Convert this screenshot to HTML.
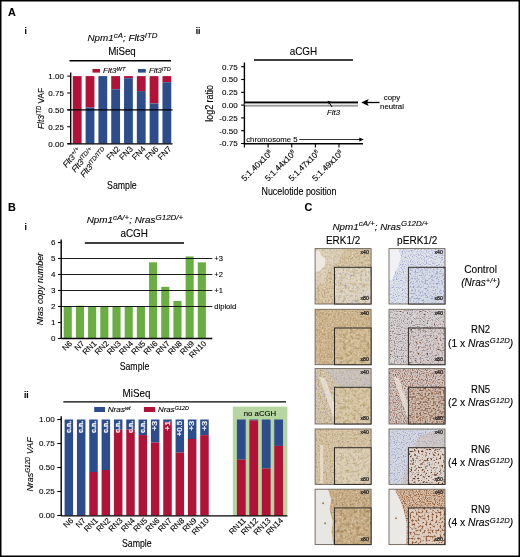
<!DOCTYPE html><html><head><meta charset="utf-8"><title>Figure</title><style>html,body{margin:0;padding:0;background:#fff}svg{display:block}</style></head><body><svg width="520" height="557" viewBox="0 0 520 557" font-family="Liberation Sans, sans-serif">
<defs>
<filter id="nz" x="0" y="0" width="100%" height="100%"><feTurbulence type="fractalNoise" baseFrequency="0.8" numOctaves="2" seed="3" result="t"/><feColorMatrix in="t" type="matrix" values="0 0 0 0 0  0 0 0 0 0  0 0 0 0 0  2.2 0 0 0 -0.85" result="m"/><feComposite in="SourceGraphic" in2="m" operator="in"/></filter>
<filter id="nz2" x="0" y="0" width="100%" height="100%"><feTurbulence type="fractalNoise" baseFrequency="0.5" numOctaves="2" seed="11" result="t"/><feColorMatrix in="t" type="matrix" values="0 0 0 0 0  0 0 0 0 0  0 0 0 0 0  2.2 0 0 0 -0.85" result="m"/><feComposite in="SourceGraphic" in2="m" operator="in"/></filter>
<filter id="nzl" x="0" y="0" width="100%" height="100%"><feTurbulence type="fractalNoise" baseFrequency="0.6" numOctaves="2" seed="23" result="t"/><feColorMatrix in="t" type="matrix" values="0 0 0 0 0  0 0 0 0 0  0 0 0 0 0  0 2.2 0 0 -0.9" result="m"/><feComposite in="SourceGraphic" in2="m" operator="in"/></filter>
</defs>
<rect x="0" y="0" width="520" height="557" fill="#fff"/>
<rect x="0.75" y="0.75" width="518.5" height="555.5" fill="none" stroke="#000" stroke-width="1.5"/>
<text x="8" y="16" font-size="10.8" text-anchor="start" fill="#000" stroke="#000" stroke-width="0.1" font-weight="bold" >A</text>
<text x="24.6" y="33.8" font-size="8.5" text-anchor="start" fill="#000" stroke="#000" stroke-width="0.1" font-weight="bold" >i</text>
<text x="87.5" y="41" font-size="9.7" text-anchor="start" fill="#000" stroke="#000" stroke-width="0.1" font-style="italic" textLength="70" lengthAdjust="spacingAndGlyphs" >Npm1<tspan dy="-3.2" font-size="7.8">cA</tspan><tspan dy="3.2">&#8203;</tspan>; Flt3<tspan dy="-3.2" font-size="7.8">ITD</tspan><tspan dy="3.2">&#8203;</tspan></text>
<text x="122" y="54.5" font-size="10.3" text-anchor="middle" fill="#000" stroke="#000" stroke-width="0.1" textLength="27.6" lengthAdjust="spacingAndGlyphs" >MiSeq</text>
<line x1="69.5" y1="60.75" x2="171" y2="60.75" stroke="#000" stroke-width="1.4"/>
<rect x="92.5" y="69" width="7.5" height="3.6" fill="#B01238"/>
<text x="103" y="73" font-size="7" text-anchor="start" fill="#000" stroke="#000" stroke-width="0.1" font-style="italic" textLength="22.5" lengthAdjust="spacingAndGlyphs" >Flt3<tspan dy="-2.3" font-size="5">WT</tspan><tspan dy="2.3">&#8203;</tspan></text>
<rect x="138" y="69" width="7.8" height="3.6" fill="#2C4C8C"/>
<text x="149" y="73" font-size="7" text-anchor="start" fill="#000" stroke="#000" stroke-width="0.1" font-style="italic" textLength="21.7" lengthAdjust="spacingAndGlyphs" >Flt3<tspan dy="-2.3" font-size="5">ITD</tspan><tspan dy="2.3">&#8203;</tspan></text>
<rect x="72.8" y="76.1" width="8.8" height="67.5" fill="#B01238"/>
<rect x="85.61" y="76.1" width="8.8" height="31.39" fill="#B01238"/>
<rect x="85.61" y="107.49" width="8.8" height="36.11" fill="#2C4C8C"/>
<rect x="98.42" y="76.1" width="8.8" height="67.5" fill="#2C4C8C"/>
<rect x="111.23" y="76.1" width="8.8" height="13.16" fill="#B01238"/>
<rect x="111.23" y="89.26" width="8.8" height="54.34" fill="#2C4C8C"/>
<rect x="124.04" y="76.1" width="8.8" height="2.16" fill="#B01238"/>
<rect x="124.04" y="78.26" width="8.8" height="65.34" fill="#2C4C8C"/>
<rect x="136.85" y="76.1" width="8.8" height="14.98" fill="#B01238"/>
<rect x="136.85" y="91.08" width="8.8" height="52.52" fill="#2C4C8C"/>
<rect x="149.66" y="76.1" width="8.8" height="27.34" fill="#B01238"/>
<rect x="149.66" y="103.44" width="8.8" height="40.16" fill="#2C4C8C"/>
<rect x="162.47" y="76.1" width="8.8" height="6.14" fill="#B01238"/>
<rect x="162.47" y="82.24" width="8.8" height="61.36" fill="#2C4C8C"/>
<line x1="70.7" y1="72.5" x2="70.7" y2="144.2" stroke="#000" stroke-width="1.4"/>
<line x1="67.3" y1="76.1" x2="70.7" y2="76.1" stroke="#000" stroke-width="1.1"/>
<text x="63.9" y="79.0" font-size="8" text-anchor="end" fill="#000" stroke="#000" stroke-width="0.1" >1.00</text>
<line x1="67.3" y1="92.97" x2="70.7" y2="92.97" stroke="#000" stroke-width="1.1"/>
<text x="63.9" y="95.87" font-size="8" text-anchor="end" fill="#000" stroke="#000" stroke-width="0.1" >0.75</text>
<line x1="67.3" y1="109.85" x2="70.7" y2="109.85" stroke="#000" stroke-width="1.1"/>
<text x="63.9" y="112.75" font-size="8" text-anchor="end" fill="#000" stroke="#000" stroke-width="0.1" >0.50</text>
<line x1="67.3" y1="126.72" x2="70.7" y2="126.72" stroke="#000" stroke-width="1.1"/>
<text x="63.9" y="129.62" font-size="8" text-anchor="end" fill="#000" stroke="#000" stroke-width="0.1" >0.25</text>
<line x1="67.3" y1="143.6" x2="70.7" y2="143.6" stroke="#000" stroke-width="1.1"/>
<text x="63.9" y="146.5" font-size="8" text-anchor="end" fill="#000" stroke="#000" stroke-width="0.1" >0.00</text>
<line x1="67.3" y1="109.8" x2="172.5" y2="109.8" stroke="#000" stroke-width="1.3"/>
<line x1="67.3" y1="143.9" x2="172.5" y2="143.9" stroke="#000" stroke-width="1.3"/>
<text x="43.6" y="129" font-size="9.3" text-anchor="start" fill="#000" stroke="#000" stroke-width="0.1" transform="rotate(-90 43.6 129)" textLength="41" lengthAdjust="spacingAndGlyphs" ><tspan font-style="italic">Flt3<tspan dy="-3" font-size="6.5">ITD</tspan><tspan dy="3">&#8203;</tspan></tspan> VAF</text>
<text x="81.2" y="150.5" font-size="8.3" text-anchor="end" fill="#000" stroke="#000" stroke-width="0.1" font-style="italic" transform="rotate(-50 81.2 150.5)" >Flt3<tspan dy="-2.5" font-size="6.2">+/+</tspan><tspan dy="2.5">&#8203;</tspan></text>
<text x="94.0" y="150.5" font-size="8.3" text-anchor="end" fill="#000" stroke="#000" stroke-width="0.1" font-style="italic" transform="rotate(-50 94.0 150.5)" >Flt3<tspan dy="-2.5" font-size="6.2">ITD/+</tspan><tspan dy="2.5">&#8203;</tspan></text>
<text x="106.8" y="150.5" font-size="8.3" text-anchor="end" fill="#000" stroke="#000" stroke-width="0.1" font-style="italic" transform="rotate(-50 106.8 150.5)" >Flt3<tspan dy="-2.5" font-size="6.2">ITD/ITD</tspan><tspan dy="2.5">&#8203;</tspan></text>
<text x="120.6" y="149.5" font-size="8.2" text-anchor="end" fill="#000" stroke="#000" stroke-width="0.1" transform="rotate(-45 120.6 149.5)" >FN2</text>
<text x="133.4" y="149.5" font-size="8.2" text-anchor="end" fill="#000" stroke="#000" stroke-width="0.1" transform="rotate(-45 133.4 149.5)" >FN3</text>
<text x="146.2" y="149.5" font-size="8.2" text-anchor="end" fill="#000" stroke="#000" stroke-width="0.1" transform="rotate(-45 146.2 149.5)" >FN4</text>
<text x="159.1" y="149.5" font-size="8.2" text-anchor="end" fill="#000" stroke="#000" stroke-width="0.1" transform="rotate(-45 159.1 149.5)" >FN6</text>
<text x="171.9" y="149.5" font-size="8.2" text-anchor="end" fill="#000" stroke="#000" stroke-width="0.1" transform="rotate(-45 171.9 149.5)" >FN7</text>
<text x="121.9" y="188.5" font-size="10.2" text-anchor="middle" fill="#000" stroke="#000" stroke-width="0.1" textLength="29.7" lengthAdjust="spacingAndGlyphs" >Sample</text>
<text x="195.7" y="33.6" font-size="8.5" text-anchor="start" fill="#000" stroke="#000" stroke-width="0.1" font-weight="bold" >ii</text>
<text x="303.4" y="54.6" font-size="10.2" text-anchor="middle" fill="#000" stroke="#000" stroke-width="0.1" textLength="27.5" lengthAdjust="spacingAndGlyphs" >aCGH</text>
<line x1="254" y1="60" x2="353" y2="60" stroke="#000" stroke-width="1.4"/>
<line x1="244.4" y1="62.5" x2="244.4" y2="144.4" stroke="#000" stroke-width="1.4"/>
<line x1="241.1" y1="66.7" x2="244.4" y2="66.7" stroke="#000" stroke-width="1.1"/>
<text x="237.6" y="69.6" font-size="8" text-anchor="end" fill="#000" stroke="#000" stroke-width="0.1" >0.75</text>
<line x1="241.1" y1="79.5" x2="244.4" y2="79.5" stroke="#000" stroke-width="1.1"/>
<text x="237.6" y="82.4" font-size="8" text-anchor="end" fill="#000" stroke="#000" stroke-width="0.1" >0.50</text>
<line x1="241.1" y1="92.3" x2="244.4" y2="92.3" stroke="#000" stroke-width="1.1"/>
<text x="237.6" y="95.2" font-size="8" text-anchor="end" fill="#000" stroke="#000" stroke-width="0.1" >0.25</text>
<line x1="241.1" y1="105.1" x2="244.4" y2="105.1" stroke="#000" stroke-width="1.1"/>
<text x="237.6" y="108.0" font-size="8" text-anchor="end" fill="#000" stroke="#000" stroke-width="0.1" >0.00</text>
<line x1="241.1" y1="117.9" x2="244.4" y2="117.9" stroke="#000" stroke-width="1.1"/>
<text x="237.6" y="120.8" font-size="8" text-anchor="end" fill="#000" stroke="#000" stroke-width="0.1" >-0.25</text>
<line x1="241.1" y1="130.7" x2="244.4" y2="130.7" stroke="#000" stroke-width="1.1"/>
<text x="237.6" y="133.6" font-size="8" text-anchor="end" fill="#000" stroke="#000" stroke-width="0.1" >-0.50</text>
<line x1="241.1" y1="143.5" x2="244.4" y2="143.5" stroke="#000" stroke-width="1.1"/>
<text x="237.6" y="146.4" font-size="8" text-anchor="end" fill="#000" stroke="#000" stroke-width="0.1" >-0.75</text>
<text x="213" y="121.7" font-size="10.2" text-anchor="start" fill="#000" stroke="#000" stroke-width="0.1" transform="rotate(-90 213 121.7)" textLength="36.6" lengthAdjust="spacingAndGlyphs" >log2 ratio</text>
<line x1="244.4" y1="102.5" x2="358" y2="102.5" stroke="#000" stroke-width="2"/>
<line x1="244.4" y1="104.2" x2="358" y2="104.2" stroke="#ddd" stroke-width="1"/>
<line x1="244.4" y1="105.9" x2="358" y2="105.9" stroke="#333" stroke-width="0.8"/>
<text x="246.2" y="141.5" font-size="7.8" text-anchor="start" fill="#000" stroke="#000" stroke-width="0.1" textLength="51.5" lengthAdjust="spacingAndGlyphs" >chromosome 5</text>
<line x1="299.2" y1="139.5" x2="360" y2="139.5" stroke="#000" stroke-width="0.8"/>
<path d="M363.8 139.5 l-4.5 -2 v4z" fill="#000"/>
<line x1="244.4" y1="143.75" x2="363" y2="143.75" stroke="#000" stroke-width="1.3"/>
<line x1="244.4" y1="143.75" x2="244.4" y2="147.5" stroke="#000" stroke-width="1.1"/>
<line x1="268.1" y1="143.75" x2="268.1" y2="147.5" stroke="#000" stroke-width="1.1"/>
<line x1="291.7" y1="143.75" x2="291.7" y2="147.5" stroke="#000" stroke-width="1.1"/>
<line x1="315.4" y1="143.75" x2="315.4" y2="147.5" stroke="#000" stroke-width="1.1"/>
<line x1="339.0" y1="143.75" x2="339.0" y2="147.5" stroke="#000" stroke-width="1.1"/>
<text x="392" y="100" font-size="7.8" text-anchor="middle" fill="#000" stroke="#000" stroke-width="0.1" >copy</text>
<text x="392" y="109.25" font-size="7.8" text-anchor="middle" fill="#000" stroke="#000" stroke-width="0.1" >neutral</text>
<line x1="366" y1="102.5" x2="379.5" y2="102.5" stroke="#000" stroke-width="1.3"/>
<path d="M361.2 102.5 l7.5 -3.6 l-1.6 3.6 l1.6 3.6z" fill="#000"/>
<text x="327" y="115" font-size="7.8" text-anchor="start" fill="#000" stroke="#000" stroke-width="0.1" font-style="italic" >Flt3</text>
<line x1="329.5" y1="103.2" x2="332" y2="107" stroke="#000" stroke-width="1"/>
<path d="M327.6 100.8 l3.8 1.3 l-2.6 2.3z" fill="#000"/>
<text x="272.90000000000003" y="153.5" font-size="8.4" text-anchor="end" fill="#000" stroke="#000" stroke-width="0.1" transform="rotate(-45 272.90000000000003 153.5)" >5:1.40x10<tspan dy="-2.8" font-size="5.6">8</tspan><tspan dy="2.8">&#8203;</tspan></text>
<text x="296.5" y="153.5" font-size="8.4" text-anchor="end" fill="#000" stroke="#000" stroke-width="0.1" transform="rotate(-45 296.5 153.5)" >5:1.44x10<tspan dy="-2.8" font-size="5.6">8</tspan><tspan dy="2.8">&#8203;</tspan></text>
<text x="320.2" y="153.5" font-size="8.4" text-anchor="end" fill="#000" stroke="#000" stroke-width="0.1" transform="rotate(-45 320.2 153.5)" >5:1.47x10<tspan dy="-2.8" font-size="5.6">8</tspan><tspan dy="2.8">&#8203;</tspan></text>
<text x="343.8" y="153.5" font-size="8.4" text-anchor="end" fill="#000" stroke="#000" stroke-width="0.1" transform="rotate(-45 343.8 153.5)" >5:1.49x10<tspan dy="-2.8" font-size="5.6">8</tspan><tspan dy="2.8">&#8203;</tspan></text>
<text x="299" y="195" font-size="10" text-anchor="middle" fill="#000" stroke="#000" stroke-width="0.1" textLength="75" lengthAdjust="spacingAndGlyphs" >Nucelotide position</text>
<text x="8" y="211.2" font-size="10.8" text-anchor="start" fill="#000" stroke="#000" stroke-width="0.1" font-weight="bold" >B</text>
<text x="24.6" y="229.5" font-size="8.5" text-anchor="start" fill="#000" stroke="#000" stroke-width="0.1" font-weight="bold" >i</text>
<text x="86.7" y="223.3" font-size="9.7" text-anchor="start" fill="#000" stroke="#000" stroke-width="0.1" font-style="italic" textLength="96.5" lengthAdjust="spacingAndGlyphs" >Npm1<tspan dy="-3.2" font-size="7.8">cA/+</tspan><tspan dy="3.2">&#8203;</tspan>; Nras<tspan dy="-3.2" font-size="7.8">G12D/+</tspan><tspan dy="3.2">&#8203;</tspan></text>
<text x="134.2" y="236.7" font-size="10.2" text-anchor="middle" fill="#000" stroke="#000" stroke-width="0.1" textLength="27.5" lengthAdjust="spacingAndGlyphs" >aCGH</text>
<line x1="84.8" y1="243" x2="184" y2="243" stroke="#000" stroke-width="1.4"/>
<text x="214.3" y="261.2" font-size="7.6" text-anchor="start" fill="#000" stroke="#000" stroke-width="0.1" >+3</text>
<text x="214.3" y="277.2" font-size="7.6" text-anchor="start" fill="#000" stroke="#000" stroke-width="0.1" >+2</text>
<text x="214.3" y="293.2" font-size="7.6" text-anchor="start" fill="#000" stroke="#000" stroke-width="0.1" >+1</text>
<text x="214.3" y="309.2" font-size="7.6" text-anchor="start" fill="#000" stroke="#000" stroke-width="0.1" >diploid</text>
<rect x="63.7" y="306.5" width="8.1" height="32.0" fill="#6AAE43"/>
<rect x="75.89" y="305.7" width="8.1" height="32.8" fill="#6AAE43"/>
<rect x="88.08" y="306.5" width="8.1" height="32.0" fill="#6AAE43"/>
<rect x="100.27" y="306.5" width="8.1" height="32.0" fill="#6AAE43"/>
<rect x="112.46" y="306.5" width="8.1" height="32.0" fill="#6AAE43"/>
<rect x="124.65" y="306.5" width="8.1" height="32.0" fill="#6AAE43"/>
<rect x="136.84" y="306.5" width="8.1" height="32.0" fill="#6AAE43"/>
<rect x="149.03" y="262.34" width="8.1" height="76.16" fill="#6AAE43"/>
<rect x="161.22" y="286.82" width="8.1" height="51.68" fill="#6AAE43"/>
<rect x="173.41" y="300.9" width="8.1" height="37.6" fill="#6AAE43"/>
<rect x="185.6" y="256.42" width="8.1" height="82.08" fill="#6AAE43"/>
<rect x="197.79" y="262.34" width="8.1" height="76.16" fill="#6AAE43"/>
<line x1="61.2" y1="258.5" x2="212.3" y2="258.5" stroke="#111" stroke-width="0.95"/>
<line x1="61.2" y1="274.5" x2="212.3" y2="274.5" stroke="#111" stroke-width="0.95"/>
<line x1="61.2" y1="290.5" x2="212.3" y2="290.5" stroke="#111" stroke-width="0.95"/>
<line x1="61.2" y1="306.5" x2="212.3" y2="306.5" stroke="#111" stroke-width="0.95"/>
<line x1="61.2" y1="239.4" x2="61.2" y2="339.1" stroke="#000" stroke-width="1.4"/>
<line x1="61.2" y1="338.5" x2="212.3" y2="338.5" stroke="#000" stroke-width="1.3"/>
<line x1="57.9" y1="338.5" x2="61.2" y2="338.5" stroke="#000" stroke-width="1.1"/>
<text x="55.5" y="341.3" font-size="8" text-anchor="end" fill="#000" stroke="#000" stroke-width="0.1" >0</text>
<line x1="57.9" y1="322.5" x2="61.2" y2="322.5" stroke="#000" stroke-width="1.1"/>
<text x="55.5" y="325.3" font-size="8" text-anchor="end" fill="#000" stroke="#000" stroke-width="0.1" >1</text>
<line x1="57.9" y1="306.5" x2="61.2" y2="306.5" stroke="#000" stroke-width="1.1"/>
<text x="55.5" y="309.3" font-size="8" text-anchor="end" fill="#000" stroke="#000" stroke-width="0.1" >2</text>
<line x1="57.9" y1="290.5" x2="61.2" y2="290.5" stroke="#000" stroke-width="1.1"/>
<text x="55.5" y="293.3" font-size="8" text-anchor="end" fill="#000" stroke="#000" stroke-width="0.1" >3</text>
<line x1="57.9" y1="274.5" x2="61.2" y2="274.5" stroke="#000" stroke-width="1.1"/>
<text x="55.5" y="277.3" font-size="8" text-anchor="end" fill="#000" stroke="#000" stroke-width="0.1" >4</text>
<line x1="57.9" y1="258.5" x2="61.2" y2="258.5" stroke="#000" stroke-width="1.1"/>
<text x="55.5" y="261.3" font-size="8" text-anchor="end" fill="#000" stroke="#000" stroke-width="0.1" >5</text>
<line x1="57.9" y1="242.5" x2="61.2" y2="242.5" stroke="#000" stroke-width="1.1"/>
<text x="55.5" y="245.3" font-size="8" text-anchor="end" fill="#000" stroke="#000" stroke-width="0.1" >6</text>
<text x="43.5" y="325.2" font-size="9.3" text-anchor="start" fill="#000" stroke="#000" stroke-width="0.1" font-style="italic" transform="rotate(-90 43.5 325.2)" textLength="72.2" lengthAdjust="spacingAndGlyphs" >Nras copy number</text>
<text x="72.7" y="344" font-size="8" text-anchor="end" fill="#000" stroke="#000" stroke-width="0.1" transform="rotate(-45 72.7 344)" >N6</text>
<text x="84.9" y="344" font-size="8" text-anchor="end" fill="#000" stroke="#000" stroke-width="0.1" transform="rotate(-45 84.9 344)" >N7</text>
<text x="97.1" y="344" font-size="8" text-anchor="end" fill="#000" stroke="#000" stroke-width="0.1" transform="rotate(-45 97.1 344)" >RN1</text>
<text x="109.3" y="344" font-size="8" text-anchor="end" fill="#000" stroke="#000" stroke-width="0.1" transform="rotate(-45 109.3 344)" >RN2</text>
<text x="121.5" y="344" font-size="8" text-anchor="end" fill="#000" stroke="#000" stroke-width="0.1" transform="rotate(-45 121.5 344)" >RN3</text>
<text x="133.7" y="344" font-size="8" text-anchor="end" fill="#000" stroke="#000" stroke-width="0.1" transform="rotate(-45 133.7 344)" >RN4</text>
<text x="145.9" y="344" font-size="8" text-anchor="end" fill="#000" stroke="#000" stroke-width="0.1" transform="rotate(-45 145.9 344)" >RN5</text>
<text x="158.1" y="344" font-size="8" text-anchor="end" fill="#000" stroke="#000" stroke-width="0.1" transform="rotate(-45 158.1 344)" >RN6</text>
<text x="170.3" y="344" font-size="8" text-anchor="end" fill="#000" stroke="#000" stroke-width="0.1" transform="rotate(-45 170.3 344)" >RN7</text>
<text x="182.5" y="344" font-size="8" text-anchor="end" fill="#000" stroke="#000" stroke-width="0.1" transform="rotate(-45 182.5 344)" >RN8</text>
<text x="194.7" y="344" font-size="8" text-anchor="end" fill="#000" stroke="#000" stroke-width="0.1" transform="rotate(-45 194.7 344)" >RN9</text>
<text x="206.8" y="344" font-size="8" text-anchor="end" fill="#000" stroke="#000" stroke-width="0.1" transform="rotate(-45 206.8 344)" >RN10</text>
<text x="134.5" y="370.2" font-size="10.2" text-anchor="middle" fill="#000" stroke="#000" stroke-width="0.1" textLength="29.7" lengthAdjust="spacingAndGlyphs" >Sample</text>
<text x="24" y="397.5" font-size="8.5" text-anchor="start" fill="#000" stroke="#000" stroke-width="0.1" font-weight="bold" >ii</text>
<text x="136.5" y="396.7" font-size="10.3" text-anchor="middle" fill="#000" stroke="#000" stroke-width="0.1" textLength="27.8" lengthAdjust="spacingAndGlyphs" >MiSeq</text>
<line x1="63.3" y1="401.9" x2="286" y2="401.9" stroke="#000" stroke-width="1.2"/>
<rect x="232.8" y="406.6" width="54.6" height="109.4" fill="#B6D6A1"/>
<rect x="94.2" y="407" width="10.8" height="5" fill="#2C4C8C"/>
<text x="107.7" y="412.3" font-size="7.3" text-anchor="start" fill="#000" stroke="#000" stroke-width="0.1" font-style="italic" textLength="22.9" lengthAdjust="spacingAndGlyphs" >Nras<tspan dy="-2.3" font-size="5">wt</tspan><tspan dy="2.3">&#8203;</tspan></text>
<rect x="143.9" y="407" width="11.3" height="5" fill="#B01238"/>
<text x="157.9" y="412.3" font-size="7.3" text-anchor="start" fill="#000" stroke="#000" stroke-width="0.1" font-style="italic" textLength="31" lengthAdjust="spacingAndGlyphs" >Nras<tspan dy="-2.3" font-size="5">G12D</tspan><tspan dy="2.3">&#8203;</tspan></text>
<text x="260" y="415.5" font-size="8" text-anchor="middle" fill="#000" stroke="#000" stroke-width="0.1" textLength="32.5" lengthAdjust="spacingAndGlyphs" >no aCGH</text>
<rect x="64.6" y="419.5" width="8.5" height="96.0" fill="#2C4C8C"/>
<text x="71.1" y="420.9" font-size="6.6" text-anchor="end" fill="#fff" font-weight="bold" transform="rotate(-90 71.1 420.9)" textLength="12" lengthAdjust="spacingAndGlyphs" stroke="#fff" stroke-width="0.25">c.n.</text>
<rect x="76.93" y="419.5" width="8.5" height="96.0" fill="#2C4C8C"/>
<text x="83.5" y="420.9" font-size="6.6" text-anchor="end" fill="#fff" font-weight="bold" transform="rotate(-90 83.5 420.9)" textLength="12" lengthAdjust="spacingAndGlyphs" stroke="#fff" stroke-width="0.25">c.n.</text>
<rect x="89.26" y="419.5" width="8.5" height="52.51" fill="#2C4C8C"/>
<rect x="89.26" y="472.01" width="8.5" height="43.49" fill="#B01238"/>
<text x="95.8" y="420.9" font-size="6.6" text-anchor="end" fill="#fff" font-weight="bold" transform="rotate(-90 95.8 420.9)" textLength="12" lengthAdjust="spacingAndGlyphs" stroke="#fff" stroke-width="0.25">c.n.</text>
<rect x="101.59" y="419.5" width="8.5" height="50.5" fill="#2C4C8C"/>
<rect x="101.59" y="470.0" width="8.5" height="45.5" fill="#B01238"/>
<text x="108.1" y="420.9" font-size="6.6" text-anchor="end" fill="#fff" font-weight="bold" transform="rotate(-90 108.1 420.9)" textLength="12" lengthAdjust="spacingAndGlyphs" stroke="#fff" stroke-width="0.25">c.n.</text>
<rect x="113.92" y="419.5" width="8.5" height="10.18" fill="#2C4C8C"/>
<rect x="113.92" y="429.68" width="8.5" height="85.82" fill="#B01238"/>
<text x="120.5" y="420.9" font-size="6.6" text-anchor="end" fill="#fff" font-weight="bold" transform="rotate(-90 120.5 420.9)" textLength="12" lengthAdjust="spacingAndGlyphs" stroke="#fff" stroke-width="0.25">c.n.</text>
<rect x="126.25" y="419.5" width="8.5" height="10.18" fill="#2C4C8C"/>
<rect x="126.25" y="429.68" width="8.5" height="85.82" fill="#B01238"/>
<text x="132.8" y="420.9" font-size="6.6" text-anchor="end" fill="#fff" font-weight="bold" transform="rotate(-90 132.8 420.9)" textLength="12" lengthAdjust="spacingAndGlyphs" stroke="#fff" stroke-width="0.25">c.n.</text>
<rect x="138.58" y="419.5" width="8.5" height="15.55" fill="#2C4C8C"/>
<rect x="138.58" y="435.05" width="8.5" height="80.45" fill="#B01238"/>
<text x="145.1" y="420.9" font-size="6.6" text-anchor="end" fill="#fff" font-weight="bold" transform="rotate(-90 145.1 420.9)" textLength="12" lengthAdjust="spacingAndGlyphs" stroke="#fff" stroke-width="0.25">c.n.</text>
<rect x="150.91" y="419.5" width="8.5" height="23.04" fill="#2C4C8C"/>
<rect x="150.91" y="442.54" width="8.5" height="72.96" fill="#B01238"/>
<text x="157.5" y="420.9" font-size="6.6" text-anchor="end" fill="#fff" transform="rotate(-90 157.5 420.9)" textLength="9.8" lengthAdjust="spacingAndGlyphs" stroke="#fff" stroke-width="0.25">+3</text>
<rect x="163.24" y="419.5" width="8.5" height="2.4" fill="#2C4C8C"/>
<rect x="163.24" y="421.9" width="8.5" height="93.6" fill="#B01238"/>
<text x="169.8" y="420.9" font-size="6.6" text-anchor="end" fill="#fff" transform="rotate(-90 169.8 420.9)" textLength="9.8" lengthAdjust="spacingAndGlyphs" stroke="#fff" stroke-width="0.25">+1</text>
<rect x="175.57" y="419.5" width="8.5" height="33.12" fill="#2C4C8C"/>
<rect x="175.57" y="452.62" width="8.5" height="62.88" fill="#B01238"/>
<text x="182.1" y="420.9" font-size="6.6" text-anchor="end" fill="#fff" transform="rotate(-90 182.1 420.9)" textLength="15.4" lengthAdjust="spacingAndGlyphs" stroke="#fff" stroke-width="0.25">+0.5</text>
<rect x="187.9" y="419.5" width="8.5" height="19.49" fill="#2C4C8C"/>
<rect x="187.9" y="438.99" width="8.5" height="76.51" fill="#B01238"/>
<text x="194.5" y="420.9" font-size="6.6" text-anchor="end" fill="#fff" transform="rotate(-90 194.5 420.9)" textLength="9.8" lengthAdjust="spacingAndGlyphs" stroke="#fff" stroke-width="0.25">+3</text>
<rect x="200.23" y="419.5" width="8.5" height="15.65" fill="#2C4C8C"/>
<rect x="200.23" y="435.15" width="8.5" height="80.35" fill="#B01238"/>
<text x="206.8" y="420.9" font-size="6.6" text-anchor="end" fill="#fff" transform="rotate(-90 206.8 420.9)" textLength="9.8" lengthAdjust="spacingAndGlyphs" stroke="#fff" stroke-width="0.25">+3</text>
<rect x="236.9" y="419.5" width="8.8" height="40.13" fill="#2C4C8C"/>
<rect x="236.9" y="459.63" width="8.8" height="55.87" fill="#B01238"/>
<rect x="249.35" y="419.5" width="8.8" height="0.96" fill="#2C4C8C"/>
<rect x="249.35" y="420.46" width="8.8" height="95.04" fill="#B01238"/>
<rect x="261.8" y="419.5" width="8.8" height="48.96" fill="#2C4C8C"/>
<rect x="261.8" y="468.46" width="8.8" height="47.04" fill="#B01238"/>
<rect x="274.25" y="419.5" width="8.8" height="26.4" fill="#2C4C8C"/>
<rect x="274.25" y="445.9" width="8.8" height="69.6" fill="#B01238"/>
<line x1="61.2" y1="416.3" x2="61.2" y2="516.1" stroke="#000" stroke-width="1.4"/>
<line x1="61.2" y1="515.8" x2="287.4" y2="515.8" stroke="#000" stroke-width="1.3"/>
<line x1="57.3" y1="419.5" x2="61.2" y2="419.5" stroke="#000" stroke-width="1.1"/>
<text x="54.6" y="422.4" font-size="8" text-anchor="end" fill="#000" stroke="#000" stroke-width="0.1" >1.00</text>
<line x1="57.3" y1="443.5" x2="61.2" y2="443.5" stroke="#000" stroke-width="1.1"/>
<text x="54.6" y="446.4" font-size="8" text-anchor="end" fill="#000" stroke="#000" stroke-width="0.1" >0.75</text>
<line x1="57.3" y1="467.5" x2="61.2" y2="467.5" stroke="#000" stroke-width="1.1"/>
<text x="54.6" y="470.4" font-size="8" text-anchor="end" fill="#000" stroke="#000" stroke-width="0.1" >0.50</text>
<line x1="57.3" y1="491.5" x2="61.2" y2="491.5" stroke="#000" stroke-width="1.1"/>
<text x="54.6" y="494.4" font-size="8" text-anchor="end" fill="#000" stroke="#000" stroke-width="0.1" >0.25</text>
<line x1="57.3" y1="515.5" x2="61.2" y2="515.5" stroke="#000" stroke-width="1.1"/>
<text x="54.6" y="518.4" font-size="8" text-anchor="end" fill="#000" stroke="#000" stroke-width="0.1" >0.00</text>
<text x="32.8" y="491.6" font-size="9.3" text-anchor="start" fill="#000" stroke="#000" stroke-width="0.1" font-style="italic" transform="rotate(-90 32.8 491.6)" textLength="54.2" lengthAdjust="spacingAndGlyphs" >Nras<tspan dy="-3" font-size="6.5">G12D</tspan><tspan dy="3">&#8203;</tspan> VAF</text>
<text x="73.8" y="521" font-size="8" text-anchor="end" fill="#000" stroke="#000" stroke-width="0.1" transform="rotate(-45 73.8 521)" >N6</text>
<text x="86.2" y="521" font-size="8" text-anchor="end" fill="#000" stroke="#000" stroke-width="0.1" transform="rotate(-45 86.2 521)" >N7</text>
<text x="98.5" y="521" font-size="8" text-anchor="end" fill="#000" stroke="#000" stroke-width="0.1" transform="rotate(-45 98.5 521)" >RN1</text>
<text x="110.8" y="521" font-size="8" text-anchor="end" fill="#000" stroke="#000" stroke-width="0.1" transform="rotate(-45 110.8 521)" >RN2</text>
<text x="123.2" y="521" font-size="8" text-anchor="end" fill="#000" stroke="#000" stroke-width="0.1" transform="rotate(-45 123.2 521)" >RN3</text>
<text x="135.5" y="521" font-size="8" text-anchor="end" fill="#000" stroke="#000" stroke-width="0.1" transform="rotate(-45 135.5 521)" >RN4</text>
<text x="147.8" y="521" font-size="8" text-anchor="end" fill="#000" stroke="#000" stroke-width="0.1" transform="rotate(-45 147.8 521)" >RN5</text>
<text x="160.2" y="521" font-size="8" text-anchor="end" fill="#000" stroke="#000" stroke-width="0.1" transform="rotate(-45 160.2 521)" >RN6</text>
<text x="172.5" y="521" font-size="8" text-anchor="end" fill="#000" stroke="#000" stroke-width="0.1" transform="rotate(-45 172.5 521)" >RN7</text>
<text x="184.8" y="521" font-size="8" text-anchor="end" fill="#000" stroke="#000" stroke-width="0.1" transform="rotate(-45 184.8 521)" >RN8</text>
<text x="197.1" y="521" font-size="8" text-anchor="end" fill="#000" stroke="#000" stroke-width="0.1" transform="rotate(-45 197.1 521)" >RN9</text>
<text x="209.5" y="521" font-size="8" text-anchor="end" fill="#000" stroke="#000" stroke-width="0.1" transform="rotate(-45 209.5 521)" >RN10</text>
<text x="246.3" y="521" font-size="8" text-anchor="end" fill="#000" stroke="#000" stroke-width="0.1" transform="rotate(-45 246.3 521)" >RN11</text>
<text x="258.7" y="521" font-size="8" text-anchor="end" fill="#000" stroke="#000" stroke-width="0.1" transform="rotate(-45 258.7 521)" >RN12</text>
<text x="271.2" y="521" font-size="8" text-anchor="end" fill="#000" stroke="#000" stroke-width="0.1" transform="rotate(-45 271.2 521)" >RN13</text>
<text x="283.6" y="521" font-size="8" text-anchor="end" fill="#000" stroke="#000" stroke-width="0.1" transform="rotate(-45 283.6 521)" >RN14</text>
<text x="136.8" y="546.8" font-size="10.2" text-anchor="middle" fill="#000" stroke="#000" stroke-width="0.1" textLength="29.7" lengthAdjust="spacingAndGlyphs" >Sample</text>
<text x="304.4" y="211" font-size="10.8" text-anchor="start" fill="#000" stroke="#000" stroke-width="0.1" font-weight="bold" >C</text>
<text x="332.5" y="229.5" font-size="9.7" text-anchor="start" fill="#000" stroke="#000" stroke-width="0.1" font-style="italic" textLength="96" lengthAdjust="spacingAndGlyphs" >Npm1<tspan dy="-3.2" font-size="7.8">cA/+</tspan><tspan dy="3.2">&#8203;</tspan>; Nras<tspan dy="-3.2" font-size="7.8">G12D/+</tspan><tspan dy="3.2">&#8203;</tspan></text>
<text x="343.1" y="244" font-size="10.5" text-anchor="middle" fill="#000" stroke="#000" stroke-width="0.1" textLength="34.2" lengthAdjust="spacingAndGlyphs" >ERK1/2</text>
<text x="417.2" y="244" font-size="10.5" text-anchor="middle" fill="#000" stroke="#000" stroke-width="0.1" textLength="40.2" lengthAdjust="spacingAndGlyphs" >pERK1/2</text>
<rect x="315.1" y="248.6" width="56" height="55.4" fill="#D8C9AC"/>
<filter id="f1" x="0" y="0" width="100%" height="100%"><feTurbulence type="fractalNoise" baseFrequency="0.5" numOctaves="2" seed="1" result="t"/><feColorMatrix in="t" type="matrix" values="0 0 0 0 0  0 0 0 0 0  0 0 0 0 0  2.4 0 0 0 -1.0" result="m"/><feComposite in="SourceGraphic" in2="m" operator="in"/><feGaussianBlur stdDeviation="0.45"/></filter>
<rect x="315.1" y="248.6" width="56" height="55.4" fill="#B2966A" filter="url(#f1)" opacity="0.9"/>
<filter id="f2" x="0" y="0" width="100%" height="100%"><feTurbulence type="fractalNoise" baseFrequency="0.35" numOctaves="1" seed="2" result="t"/><feColorMatrix in="t" type="matrix" values="0 0 0 0 0  0 0 0 0 0  0 0 0 0 0  3 0 0 0 -1.85" result="m"/><feComposite in="SourceGraphic" in2="m" operator="in"/><feGaussianBlur stdDeviation="0.45"/></filter>
<rect x="315.1" y="248.6" width="56" height="55.4" fill="#EFE8DA" filter="url(#f2)" opacity="0.8"/>
<filter id="f3" x="0" y="0" width="100%" height="100%"><feTurbulence type="fractalNoise" baseFrequency="0.87" numOctaves="1" seed="3" result="t"/><feColorMatrix in="t" type="matrix" values="0 0 0 0 0  0 0 0 0 0  0 0 0 0 0  3.5 0 0 0 -1.95" result="m"/><feComposite in="SourceGraphic" in2="m" operator="in"/><feGaussianBlur stdDeviation="0.45"/></filter>
<rect x="315.1" y="248.6" width="56" height="55.4" fill="#9C7C4C" filter="url(#f3)" opacity="0.55"/>
<filter id="f4" x="0" y="0" width="100%" height="100%"><feTurbulence type="fractalNoise" baseFrequency="0.8" numOctaves="1" seed="4" result="t"/><feColorMatrix in="t" type="matrix" values="0 0 0 0 0  0 0 0 0 0  0 0 0 0 0  3.5 0 0 0 -1.95" result="m"/><feComposite in="SourceGraphic" in2="m" operator="in"/><feGaussianBlur stdDeviation="0.45"/></filter>
<rect x="315.1" y="248.6" width="56" height="55.4" fill="#F3EBDA" filter="url(#f4)" opacity="0.6"/>
<path d="M315.1 250.6 h4 l2 5 l4 3 l0 6 l-4 5 l-3 2 h-3z" fill="#F4F0E9" opacity="0.92"/>
<path d="M315.1 248.6 h30 l-8 14 l-8 6 l-4 14 l-10 4z" fill="#E9E4DC" opacity="0.35"/>
<rect x="315.1" y="248.6" width="56" height="55.4" fill="none" stroke="#6f675c" stroke-width="0.9"/>
<rect x="334.5" y="267.3" width="36.6" height="36.7" fill="#DFD6C4"/>
<filter id="f5" x="0" y="0" width="100%" height="100%"><feTurbulence type="fractalNoise" baseFrequency="0.3" numOctaves="2" seed="11" result="t"/><feColorMatrix in="t" type="matrix" values="0 0 0 0 0  0 0 0 0 0  0 0 0 0 0  2.4 0 0 0 -1.05" result="m"/><feComposite in="SourceGraphic" in2="m" operator="in"/><feGaussianBlur stdDeviation="0.45"/></filter>
<rect x="334.5" y="267.3" width="36.6" height="36.7" fill="#C2AC84" filter="url(#f5)" opacity="0.9"/>
<filter id="f6" x="0" y="0" width="100%" height="100%"><feTurbulence type="fractalNoise" baseFrequency="0.4" numOctaves="1" seed="12" result="t"/><feColorMatrix in="t" type="matrix" values="0 0 0 0 0  0 0 0 0 0  0 0 0 0 0  4 0 0 0 -2.3" result="m"/><feComposite in="SourceGraphic" in2="m" operator="in"/><feGaussianBlur stdDeviation="0.45"/></filter>
<rect x="334.5" y="267.3" width="36.6" height="36.7" fill="#9DA3C8" filter="url(#f6)" opacity="0.9"/>
<filter id="f7" x="0" y="0" width="100%" height="100%"><feTurbulence type="fractalNoise" baseFrequency="0.6" numOctaves="1" seed="13" result="t"/><feColorMatrix in="t" type="matrix" values="0 0 0 0 0  0 0 0 0 0  0 0 0 0 0  3.5 0 0 0 -1.95" result="m"/><feComposite in="SourceGraphic" in2="m" operator="in"/><feGaussianBlur stdDeviation="0.45"/></filter>
<rect x="334.5" y="267.3" width="36.6" height="36.7" fill="#9C7C4C" filter="url(#f7)" opacity="0.5"/>
<filter id="f8" x="0" y="0" width="100%" height="100%"><feTurbulence type="fractalNoise" baseFrequency="0.55" numOctaves="1" seed="14" result="t"/><feColorMatrix in="t" type="matrix" values="0 0 0 0 0  0 0 0 0 0  0 0 0 0 0  3.5 0 0 0 -1.95" result="m"/><feComposite in="SourceGraphic" in2="m" operator="in"/><feGaussianBlur stdDeviation="0.45"/></filter>
<rect x="334.5" y="267.3" width="36.6" height="36.7" fill="#F3EBDA" filter="url(#f8)" opacity="0.55"/>
<rect x="334.5" y="267.3" width="36.6" height="36.7" fill="none" stroke="#2f2b27" stroke-width="1"/>
<text x="368.9" y="253.8" font-size="5.2" text-anchor="end" fill="#111" stroke="#111" stroke-width="0.2">x40</text>
<text x="368.9" y="300.3" font-size="5.2" text-anchor="end" fill="#111" stroke="#111" stroke-width="0.2">x80</text>
<rect x="389" y="248.6" width="56" height="55.4" fill="#DFE2EA"/>
<filter id="f9" x="0" y="0" width="100%" height="100%"><feTurbulence type="fractalNoise" baseFrequency="0.87" numOctaves="1" seed="8" result="t"/><feColorMatrix in="t" type="matrix" values="0 0 0 0 0  0 0 0 0 0  0 0 0 0 0  3.5 0 0 0 -1.7" result="m"/><feComposite in="SourceGraphic" in2="m" operator="in"/><feGaussianBlur stdDeviation="0.45"/></filter>
<rect x="389" y="248.6" width="56" height="55.4" fill="#8C98C2" filter="url(#f9)" opacity="0.85"/>
<path d="M389 248.6 h9 l3 8 l-3 10 l-4 8 l-2 6 h-3z" fill="#F3F3F6" opacity="0.92"/>
<rect x="389" y="248.6" width="56" height="55.4" fill="none" stroke="#6f675c" stroke-width="0.9"/>
<rect x="408.4" y="267.3" width="36.6" height="36.7" fill="#D8DCE7"/>
<filter id="f10" x="0" y="0" width="100%" height="100%"><feTurbulence type="fractalNoise" baseFrequency="0.6" numOctaves="1" seed="18" result="t"/><feColorMatrix in="t" type="matrix" values="0 0 0 0 0  0 0 0 0 0  0 0 0 0 0  3.5 0 0 0 -1.65" result="m"/><feComposite in="SourceGraphic" in2="m" operator="in"/><feGaussianBlur stdDeviation="0.45"/></filter>
<rect x="408.4" y="267.3" width="36.6" height="36.7" fill="#8390BE" filter="url(#f10)" opacity="0.85"/>
<rect x="408.4" y="267.3" width="36.6" height="36.7" fill="none" stroke="#2f2b27" stroke-width="1"/>
<text x="442.8" y="253.8" font-size="5.2" text-anchor="end" fill="#111" stroke="#111" stroke-width="0.2">x40</text>
<text x="442.8" y="300.3" font-size="5.2" text-anchor="end" fill="#111" stroke="#111" stroke-width="0.2">x80</text>
<rect x="315.1" y="309.3" width="56" height="55.4" fill="#D0B994"/>
<filter id="f11" x="0" y="0" width="100%" height="100%"><feTurbulence type="fractalNoise" baseFrequency="0.5" numOctaves="2" seed="21" result="t"/><feColorMatrix in="t" type="matrix" values="0 0 0 0 0  0 0 0 0 0  0 0 0 0 0  2.4 0 0 0 -1.0" result="m"/><feComposite in="SourceGraphic" in2="m" operator="in"/><feGaussianBlur stdDeviation="0.45"/></filter>
<rect x="315.1" y="309.3" width="56" height="55.4" fill="#AE9060" filter="url(#f11)" opacity="0.9"/>
<filter id="f12" x="0" y="0" width="100%" height="100%"><feTurbulence type="fractalNoise" baseFrequency="0.5" numOctaves="1" seed="22" result="t"/><feColorMatrix in="t" type="matrix" values="0 0 0 0 0  0 0 0 0 0  0 0 0 0 0  3 0 0 0 -1.8" result="m"/><feComposite in="SourceGraphic" in2="m" operator="in"/><feGaussianBlur stdDeviation="0.45"/></filter>
<rect x="315.1" y="309.3" width="56" height="55.4" fill="#E8DCC4" filter="url(#f12)" opacity="0.8"/>
<filter id="f13" x="0" y="0" width="100%" height="100%"><feTurbulence type="fractalNoise" baseFrequency="0.87" numOctaves="1" seed="23" result="t"/><feColorMatrix in="t" type="matrix" values="0 0 0 0 0  0 0 0 0 0  0 0 0 0 0  3.5 0 0 0 -1.95" result="m"/><feComposite in="SourceGraphic" in2="m" operator="in"/><feGaussianBlur stdDeviation="0.45"/></filter>
<rect x="315.1" y="309.3" width="56" height="55.4" fill="#9C7C4C" filter="url(#f13)" opacity="0.55"/>
<filter id="f14" x="0" y="0" width="100%" height="100%"><feTurbulence type="fractalNoise" baseFrequency="0.8" numOctaves="1" seed="24" result="t"/><feColorMatrix in="t" type="matrix" values="0 0 0 0 0  0 0 0 0 0  0 0 0 0 0  3.5 0 0 0 -1.95" result="m"/><feComposite in="SourceGraphic" in2="m" operator="in"/><feGaussianBlur stdDeviation="0.45"/></filter>
<rect x="315.1" y="309.3" width="56" height="55.4" fill="#F3EBDA" filter="url(#f14)" opacity="0.6"/>
<rect x="315.1" y="309.3" width="56" height="55.4" fill="none" stroke="#6f675c" stroke-width="0.9"/>
<rect x="334.5" y="328.0" width="36.6" height="36.7" fill="#D3BE9A"/>
<filter id="f15" x="0" y="0" width="100%" height="100%"><feTurbulence type="fractalNoise" baseFrequency="0.3" numOctaves="2" seed="31" result="t"/><feColorMatrix in="t" type="matrix" values="0 0 0 0 0  0 0 0 0 0  0 0 0 0 0  2.4 0 0 0 -1.0" result="m"/><feComposite in="SourceGraphic" in2="m" operator="in"/><feGaussianBlur stdDeviation="0.45"/></filter>
<rect x="334.5" y="328.0" width="36.6" height="36.7" fill="#AE9060" filter="url(#f15)" opacity="0.9"/>
<filter id="f16" x="0" y="0" width="100%" height="100%"><feTurbulence type="fractalNoise" baseFrequency="0.35" numOctaves="1" seed="32" result="t"/><feColorMatrix in="t" type="matrix" values="0 0 0 0 0  0 0 0 0 0  0 0 0 0 0  3 0 0 0 -1.8" result="m"/><feComposite in="SourceGraphic" in2="m" operator="in"/><feGaussianBlur stdDeviation="0.45"/></filter>
<rect x="334.5" y="328.0" width="36.6" height="36.7" fill="#E8DCC4" filter="url(#f16)" opacity="0.8"/>
<filter id="f17" x="0" y="0" width="100%" height="100%"><feTurbulence type="fractalNoise" baseFrequency="0.6" numOctaves="1" seed="33" result="t"/><feColorMatrix in="t" type="matrix" values="0 0 0 0 0  0 0 0 0 0  0 0 0 0 0  3.5 0 0 0 -1.95" result="m"/><feComposite in="SourceGraphic" in2="m" operator="in"/><feGaussianBlur stdDeviation="0.45"/></filter>
<rect x="334.5" y="328.0" width="36.6" height="36.7" fill="#9C7C4C" filter="url(#f17)" opacity="0.5"/>
<filter id="f18" x="0" y="0" width="100%" height="100%"><feTurbulence type="fractalNoise" baseFrequency="0.55" numOctaves="1" seed="34" result="t"/><feColorMatrix in="t" type="matrix" values="0 0 0 0 0  0 0 0 0 0  0 0 0 0 0  3.5 0 0 0 -1.95" result="m"/><feComposite in="SourceGraphic" in2="m" operator="in"/><feGaussianBlur stdDeviation="0.45"/></filter>
<rect x="334.5" y="328.0" width="36.6" height="36.7" fill="#F3EBDA" filter="url(#f18)" opacity="0.55"/>
<rect x="334.5" y="328.0" width="36.6" height="36.7" fill="none" stroke="#2f2b27" stroke-width="1"/>
<text x="368.9" y="314.5" font-size="5.2" text-anchor="end" fill="#111" stroke="#111" stroke-width="0.2">x40</text>
<text x="368.9" y="361.0" font-size="5.2" text-anchor="end" fill="#111" stroke="#111" stroke-width="0.2">x80</text>
<rect x="389" y="309.3" width="56" height="55.4" fill="#D8D3D5"/>
<filter id="f19" x="0" y="0" width="100%" height="100%"><feTurbulence type="fractalNoise" baseFrequency="0.87" numOctaves="1" seed="28" result="t"/><feColorMatrix in="t" type="matrix" values="0 0 0 0 0  0 0 0 0 0  0 0 0 0 0  3.5 0 0 0 -1.65" result="m"/><feComposite in="SourceGraphic" in2="m" operator="in"/><feGaussianBlur stdDeviation="0.45"/></filter>
<rect x="389" y="309.3" width="56" height="55.4" fill="#8A7E84" filter="url(#f19)" opacity="0.85"/>
<filter id="f20" x="0" y="0" width="100%" height="100%"><feTurbulence type="fractalNoise" baseFrequency="0.7" numOctaves="1" seed="29" result="t"/><feColorMatrix in="t" type="matrix" values="0 0 0 0 0  0 0 0 0 0  0 0 0 0 0  6 0 0 0 -3.8" result="m"/><feComposite in="SourceGraphic" in2="m" operator="in"/><feGaussianBlur stdDeviation="0.45"/></filter>
<rect x="389" y="309.3" width="56" height="55.4" fill="#6E3E26" filter="url(#f20)" opacity="1"/>
<rect x="389" y="309.3" width="56" height="55.4" fill="none" stroke="#6f675c" stroke-width="0.9"/>
<rect x="408.4" y="328.0" width="36.6" height="36.7" fill="#D6CFCE"/>
<filter id="f21" x="0" y="0" width="100%" height="100%"><feTurbulence type="fractalNoise" baseFrequency="0.6" numOctaves="1" seed="38" result="t"/><feColorMatrix in="t" type="matrix" values="0 0 0 0 0  0 0 0 0 0  0 0 0 0 0  3.5 0 0 0 -1.65" result="m"/><feComposite in="SourceGraphic" in2="m" operator="in"/><feGaussianBlur stdDeviation="0.45"/></filter>
<rect x="408.4" y="328.0" width="36.6" height="36.7" fill="#8A7C82" filter="url(#f21)" opacity="0.85"/>
<filter id="f22" x="0" y="0" width="100%" height="100%"><feTurbulence type="fractalNoise" baseFrequency="0.45" numOctaves="1" seed="39" result="t"/><feColorMatrix in="t" type="matrix" values="0 0 0 0 0  0 0 0 0 0  0 0 0 0 0  6 0 0 0 -3.8" result="m"/><feComposite in="SourceGraphic" in2="m" operator="in"/><feGaussianBlur stdDeviation="0.45"/></filter>
<rect x="408.4" y="328.0" width="36.6" height="36.7" fill="#6E3E26" filter="url(#f22)" opacity="1"/>
<rect x="408.4" y="328.0" width="36.6" height="36.7" fill="none" stroke="#2f2b27" stroke-width="1"/>
<text x="442.8" y="314.5" font-size="5.2" text-anchor="end" fill="#111" stroke="#111" stroke-width="0.2">x40</text>
<text x="442.8" y="361.0" font-size="5.2" text-anchor="end" fill="#111" stroke="#111" stroke-width="0.2">x80</text>
<rect x="315.1" y="368.6" width="56" height="55.4" fill="#D6C9B0"/>
<filter id="f23" x="0" y="0" width="100%" height="100%"><feTurbulence type="fractalNoise" baseFrequency="0.5" numOctaves="2" seed="41" result="t"/><feColorMatrix in="t" type="matrix" values="0 0 0 0 0  0 0 0 0 0  0 0 0 0 0  2.4 0 0 0 -1.05" result="m"/><feComposite in="SourceGraphic" in2="m" operator="in"/><feGaussianBlur stdDeviation="0.45"/></filter>
<rect x="315.1" y="368.6" width="56" height="55.4" fill="#B29A72" filter="url(#f23)" opacity="0.9"/>
<filter id="f24" x="0" y="0" width="100%" height="100%"><feTurbulence type="fractalNoise" baseFrequency="0.5" numOctaves="1" seed="42" result="t"/><feColorMatrix in="t" type="matrix" values="0 0 0 0 0  0 0 0 0 0  0 0 0 0 0  4 0 0 0 -2.3" result="m"/><feComposite in="SourceGraphic" in2="m" operator="in"/><feGaussianBlur stdDeviation="0.45"/></filter>
<rect x="315.1" y="368.6" width="56" height="55.4" fill="#A3A6C6" filter="url(#f24)" opacity="0.85"/>
<filter id="f25" x="0" y="0" width="100%" height="100%"><feTurbulence type="fractalNoise" baseFrequency="0.87" numOctaves="1" seed="43" result="t"/><feColorMatrix in="t" type="matrix" values="0 0 0 0 0  0 0 0 0 0  0 0 0 0 0  3.5 0 0 0 -1.95" result="m"/><feComposite in="SourceGraphic" in2="m" operator="in"/><feGaussianBlur stdDeviation="0.45"/></filter>
<rect x="315.1" y="368.6" width="56" height="55.4" fill="#9C7C4C" filter="url(#f25)" opacity="0.55"/>
<filter id="f26" x="0" y="0" width="100%" height="100%"><feTurbulence type="fractalNoise" baseFrequency="0.8" numOctaves="1" seed="44" result="t"/><feColorMatrix in="t" type="matrix" values="0 0 0 0 0  0 0 0 0 0  0 0 0 0 0  3.5 0 0 0 -1.95" result="m"/><feComposite in="SourceGraphic" in2="m" operator="in"/><feGaussianBlur stdDeviation="0.45"/></filter>
<rect x="315.1" y="368.6" width="56" height="55.4" fill="#F3EBDA" filter="url(#f26)" opacity="0.6"/>
<path d="M327.1 368.6 h44 v20 l-20 2 l-14 -6z" fill="#BFC1D2" opacity="0.4"/>
<path d="M319.1 376.6 l6 2 l13 36 l-5 2z" fill="#EEE8DF" opacity="0.7"/>
<rect x="315.1" y="368.6" width="56" height="55.4" fill="none" stroke="#6f675c" stroke-width="0.9"/>
<rect x="334.5" y="387.3" width="36.6" height="36.7" fill="#D8C9AA"/>
<filter id="f27" x="0" y="0" width="100%" height="100%"><feTurbulence type="fractalNoise" baseFrequency="0.3" numOctaves="2" seed="51" result="t"/><feColorMatrix in="t" type="matrix" values="0 0 0 0 0  0 0 0 0 0  0 0 0 0 0  2.4 0 0 0 -1.0" result="m"/><feComposite in="SourceGraphic" in2="m" operator="in"/><feGaussianBlur stdDeviation="0.45"/></filter>
<rect x="334.5" y="387.3" width="36.6" height="36.7" fill="#B89E6E" filter="url(#f27)" opacity="0.9"/>
<filter id="f28" x="0" y="0" width="100%" height="100%"><feTurbulence type="fractalNoise" baseFrequency="0.6" numOctaves="1" seed="52" result="t"/><feColorMatrix in="t" type="matrix" values="0 0 0 0 0  0 0 0 0 0  0 0 0 0 0  3.5 0 0 0 -1.95" result="m"/><feComposite in="SourceGraphic" in2="m" operator="in"/><feGaussianBlur stdDeviation="0.45"/></filter>
<rect x="334.5" y="387.3" width="36.6" height="36.7" fill="#9C7C4C" filter="url(#f28)" opacity="0.5"/>
<filter id="f29" x="0" y="0" width="100%" height="100%"><feTurbulence type="fractalNoise" baseFrequency="0.55" numOctaves="1" seed="53" result="t"/><feColorMatrix in="t" type="matrix" values="0 0 0 0 0  0 0 0 0 0  0 0 0 0 0  3.5 0 0 0 -1.95" result="m"/><feComposite in="SourceGraphic" in2="m" operator="in"/><feGaussianBlur stdDeviation="0.45"/></filter>
<rect x="334.5" y="387.3" width="36.6" height="36.7" fill="#F3EBDA" filter="url(#f29)" opacity="0.55"/>
<rect x="334.5" y="387.3" width="36.6" height="36.7" fill="none" stroke="#2f2b27" stroke-width="1"/>
<text x="368.9" y="373.8" font-size="5.2" text-anchor="end" fill="#111" stroke="#111" stroke-width="0.2">x40</text>
<text x="368.9" y="420.3" font-size="5.2" text-anchor="end" fill="#111" stroke="#111" stroke-width="0.2">x80</text>
<rect x="389" y="368.6" width="56" height="55.4" fill="#D4C9C5"/>
<filter id="f30" x="0" y="0" width="100%" height="100%"><feTurbulence type="fractalNoise" baseFrequency="0.87" numOctaves="1" seed="48" result="t"/><feColorMatrix in="t" type="matrix" values="0 0 0 0 0  0 0 0 0 0  0 0 0 0 0  3.5 0 0 0 -1.55" result="m"/><feComposite in="SourceGraphic" in2="m" operator="in"/><feGaussianBlur stdDeviation="0.45"/></filter>
<rect x="389" y="368.6" width="56" height="55.4" fill="#84543E" filter="url(#f30)" opacity="0.9"/>
<path d="M393 376.6 l6 2 l13 36 l-5 2z" fill="#EEE8DF" opacity="0.7"/>
<rect x="389" y="368.6" width="56" height="55.4" fill="none" stroke="#6f675c" stroke-width="0.9"/>
<rect x="408.4" y="387.3" width="36.6" height="36.7" fill="#CEBDB0"/>
<filter id="f31" x="0" y="0" width="100%" height="100%"><feTurbulence type="fractalNoise" baseFrequency="0.6" numOctaves="1" seed="58" result="t"/><feColorMatrix in="t" type="matrix" values="0 0 0 0 0  0 0 0 0 0  0 0 0 0 0  3.5 0 0 0 -1.5" result="m"/><feComposite in="SourceGraphic" in2="m" operator="in"/><feGaussianBlur stdDeviation="0.45"/></filter>
<rect x="408.4" y="387.3" width="36.6" height="36.7" fill="#84523A" filter="url(#f31)" opacity="0.9"/>
<rect x="408.4" y="387.3" width="36.6" height="36.7" fill="none" stroke="#2f2b27" stroke-width="1"/>
<text x="442.8" y="373.8" font-size="5.2" text-anchor="end" fill="#111" stroke="#111" stroke-width="0.2">x40</text>
<text x="442.8" y="420.3" font-size="5.2" text-anchor="end" fill="#111" stroke="#111" stroke-width="0.2">x80</text>
<rect x="315.1" y="429" width="56" height="55.4" fill="#D5C5A8"/>
<filter id="f32" x="0" y="0" width="100%" height="100%"><feTurbulence type="fractalNoise" baseFrequency="0.5" numOctaves="2" seed="61" result="t"/><feColorMatrix in="t" type="matrix" values="0 0 0 0 0  0 0 0 0 0  0 0 0 0 0  2.4 0 0 0 -1.05" result="m"/><feComposite in="SourceGraphic" in2="m" operator="in"/><feGaussianBlur stdDeviation="0.45"/></filter>
<rect x="315.1" y="429" width="56" height="55.4" fill="#B59C72" filter="url(#f32)" opacity="0.9"/>
<filter id="f33" x="0" y="0" width="100%" height="100%"><feTurbulence type="fractalNoise" baseFrequency="0.87" numOctaves="1" seed="62" result="t"/><feColorMatrix in="t" type="matrix" values="0 0 0 0 0  0 0 0 0 0  0 0 0 0 0  3.5 0 0 0 -1.95" result="m"/><feComposite in="SourceGraphic" in2="m" operator="in"/><feGaussianBlur stdDeviation="0.45"/></filter>
<rect x="315.1" y="429" width="56" height="55.4" fill="#9C7C4C" filter="url(#f33)" opacity="0.55"/>
<filter id="f34" x="0" y="0" width="100%" height="100%"><feTurbulence type="fractalNoise" baseFrequency="0.8" numOctaves="1" seed="63" result="t"/><feColorMatrix in="t" type="matrix" values="0 0 0 0 0  0 0 0 0 0  0 0 0 0 0  3.5 0 0 0 -1.95" result="m"/><feComposite in="SourceGraphic" in2="m" operator="in"/><feGaussianBlur stdDeviation="0.45"/></filter>
<rect x="315.1" y="429" width="56" height="55.4" fill="#F3EBDA" filter="url(#f34)" opacity="0.6"/>
<path d="M320.1 445 h3 v38 h-3z" fill="#EEE6D8" opacity="0.7"/>
<rect x="315.1" y="429" width="56" height="55.4" fill="none" stroke="#6f675c" stroke-width="0.9"/>
<rect x="334.5" y="447.7" width="36.6" height="36.7" fill="#DACEB6"/>
<filter id="f35" x="0" y="0" width="100%" height="100%"><feTurbulence type="fractalNoise" baseFrequency="0.3" numOctaves="2" seed="71" result="t"/><feColorMatrix in="t" type="matrix" values="0 0 0 0 0  0 0 0 0 0  0 0 0 0 0  2.4 0 0 0 -1.1" result="m"/><feComposite in="SourceGraphic" in2="m" operator="in"/><feGaussianBlur stdDeviation="0.45"/></filter>
<rect x="334.5" y="447.7" width="36.6" height="36.7" fill="#BCA67E" filter="url(#f35)" opacity="0.9"/>
<filter id="f36" x="0" y="0" width="100%" height="100%"><feTurbulence type="fractalNoise" baseFrequency="0.6" numOctaves="1" seed="72" result="t"/><feColorMatrix in="t" type="matrix" values="0 0 0 0 0  0 0 0 0 0  0 0 0 0 0  3.5 0 0 0 -1.95" result="m"/><feComposite in="SourceGraphic" in2="m" operator="in"/><feGaussianBlur stdDeviation="0.45"/></filter>
<rect x="334.5" y="447.7" width="36.6" height="36.7" fill="#9C7C4C" filter="url(#f36)" opacity="0.5"/>
<filter id="f37" x="0" y="0" width="100%" height="100%"><feTurbulence type="fractalNoise" baseFrequency="0.55" numOctaves="1" seed="73" result="t"/><feColorMatrix in="t" type="matrix" values="0 0 0 0 0  0 0 0 0 0  0 0 0 0 0  3.5 0 0 0 -1.95" result="m"/><feComposite in="SourceGraphic" in2="m" operator="in"/><feGaussianBlur stdDeviation="0.45"/></filter>
<rect x="334.5" y="447.7" width="36.6" height="36.7" fill="#F3EBDA" filter="url(#f37)" opacity="0.55"/>
<rect x="334.5" y="447.7" width="36.6" height="36.7" fill="none" stroke="#2f2b27" stroke-width="1"/>
<text x="368.9" y="434.2" font-size="5.2" text-anchor="end" fill="#111" stroke="#111" stroke-width="0.2">x40</text>
<text x="368.9" y="480.7" font-size="5.2" text-anchor="end" fill="#111" stroke="#111" stroke-width="0.2">x80</text>
<rect x="389" y="429" width="56" height="55.4" fill="#D5D7E1"/>
<filter id="f38" x="0" y="0" width="100%" height="100%"><feTurbulence type="fractalNoise" baseFrequency="0.87" numOctaves="1" seed="68" result="t"/><feColorMatrix in="t" type="matrix" values="0 0 0 0 0  0 0 0 0 0  0 0 0 0 0  3.5 0 0 0 -1.7" result="m"/><feComposite in="SourceGraphic" in2="m" operator="in"/><feGaussianBlur stdDeviation="0.45"/></filter>
<rect x="389" y="429" width="56" height="55.4" fill="#8892B8" filter="url(#f38)" opacity="0.85"/>
<path d="M419 435 l26 -6 v55.3 h-44 l4 -14z" fill="#C9B09C" opacity="0.35"/>
<rect x="389" y="429" width="56" height="55.4" fill="none" stroke="#6f675c" stroke-width="0.9"/>
<rect x="408.4" y="447.7" width="36.6" height="36.7" fill="#E0D7D0"/>
<filter id="f39" x="0" y="0" width="100%" height="100%"><feTurbulence type="fractalNoise" baseFrequency="0.55" numOctaves="1" seed="78" result="t"/><feColorMatrix in="t" type="matrix" values="0 0 0 0 0  0 0 0 0 0  0 0 0 0 0  5 0 0 0 -2.6" result="m"/><feComposite in="SourceGraphic" in2="m" operator="in"/><feGaussianBlur stdDeviation="0.45"/></filter>
<rect x="408.4" y="447.7" width="36.6" height="36.7" fill="#623218" filter="url(#f39)" opacity="1"/>
<filter id="f40" x="0" y="0" width="100%" height="100%"><feTurbulence type="fractalNoise" baseFrequency="0.6" numOctaves="1" seed="79" result="t"/><feColorMatrix in="t" type="matrix" values="0 0 0 0 0  0 0 0 0 0  0 0 0 0 0  4 0 0 0 -2.4" result="m"/><feComposite in="SourceGraphic" in2="m" operator="in"/><feGaussianBlur stdDeviation="0.45"/></filter>
<rect x="408.4" y="447.7" width="36.6" height="36.7" fill="#989EB8" filter="url(#f40)" opacity="0.7"/>
<rect x="408.4" y="447.7" width="36.6" height="36.7" fill="none" stroke="#2f2b27" stroke-width="1"/>
<text x="442.8" y="434.2" font-size="5.2" text-anchor="end" fill="#111" stroke="#111" stroke-width="0.2">x40</text>
<text x="442.8" y="480.7" font-size="5.2" text-anchor="end" fill="#111" stroke="#111" stroke-width="0.2">x80</text>
<rect x="315.1" y="489.2" width="56" height="55.4" fill="#CDB490"/>
<filter id="f41" x="0" y="0" width="100%" height="100%"><feTurbulence type="fractalNoise" baseFrequency="0.5" numOctaves="2" seed="81" result="t"/><feColorMatrix in="t" type="matrix" values="0 0 0 0 0  0 0 0 0 0  0 0 0 0 0  2.4 0 0 0 -1.0" result="m"/><feComposite in="SourceGraphic" in2="m" operator="in"/><feGaussianBlur stdDeviation="0.45"/></filter>
<rect x="315.1" y="489.2" width="56" height="55.4" fill="#A28254" filter="url(#f41)" opacity="0.9"/>
<filter id="f42" x="0" y="0" width="100%" height="100%"><feTurbulence type="fractalNoise" baseFrequency="0.5" numOctaves="1" seed="82" result="t"/><feColorMatrix in="t" type="matrix" values="0 0 0 0 0  0 0 0 0 0  0 0 0 0 0  3 0 0 0 -1.85" result="m"/><feComposite in="SourceGraphic" in2="m" operator="in"/><feGaussianBlur stdDeviation="0.45"/></filter>
<rect x="315.1" y="489.2" width="56" height="55.4" fill="#E9DEC9" filter="url(#f42)" opacity="0.8"/>
<filter id="f43" x="0" y="0" width="100%" height="100%"><feTurbulence type="fractalNoise" baseFrequency="0.87" numOctaves="1" seed="83" result="t"/><feColorMatrix in="t" type="matrix" values="0 0 0 0 0  0 0 0 0 0  0 0 0 0 0  3.5 0 0 0 -1.95" result="m"/><feComposite in="SourceGraphic" in2="m" operator="in"/><feGaussianBlur stdDeviation="0.45"/></filter>
<rect x="315.1" y="489.2" width="56" height="55.4" fill="#9C7C4C" filter="url(#f43)" opacity="0.55"/>
<filter id="f44" x="0" y="0" width="100%" height="100%"><feTurbulence type="fractalNoise" baseFrequency="0.8" numOctaves="1" seed="84" result="t"/><feColorMatrix in="t" type="matrix" values="0 0 0 0 0  0 0 0 0 0  0 0 0 0 0  3.5 0 0 0 -1.95" result="m"/><feComposite in="SourceGraphic" in2="m" operator="in"/><feGaussianBlur stdDeviation="0.45"/></filter>
<rect x="315.1" y="489.2" width="56" height="55.4" fill="#F3EBDA" filter="url(#f44)" opacity="0.6"/>
<path d="M315.1 489.2 h13 l3 10 l-1.5 10 l3 12 l-1 10 l1.5 13.4 h-18z" fill="#E9E7E3"/>
<circle cx="323.1" cy="503.2" r="1" fill="#9a7a50"/><circle cx="325.1" cy="523.2" r="1" fill="#9a7a50"/>
<rect x="315.1" y="489.2" width="56" height="55.4" fill="none" stroke="#6f675c" stroke-width="0.9"/>
<rect x="334.5" y="507.9" width="36.6" height="36.7" fill="#CCB38E"/>
<filter id="f45" x="0" y="0" width="100%" height="100%"><feTurbulence type="fractalNoise" baseFrequency="0.3" numOctaves="2" seed="91" result="t"/><feColorMatrix in="t" type="matrix" values="0 0 0 0 0  0 0 0 0 0  0 0 0 0 0  2.4 0 0 0 -1.0" result="m"/><feComposite in="SourceGraphic" in2="m" operator="in"/><feGaussianBlur stdDeviation="0.45"/></filter>
<rect x="334.5" y="507.9" width="36.6" height="36.7" fill="#A28254" filter="url(#f45)" opacity="0.9"/>
<filter id="f46" x="0" y="0" width="100%" height="100%"><feTurbulence type="fractalNoise" baseFrequency="0.35" numOctaves="1" seed="92" result="t"/><feColorMatrix in="t" type="matrix" values="0 0 0 0 0  0 0 0 0 0  0 0 0 0 0  3 0 0 0 -1.85" result="m"/><feComposite in="SourceGraphic" in2="m" operator="in"/><feGaussianBlur stdDeviation="0.45"/></filter>
<rect x="334.5" y="507.9" width="36.6" height="36.7" fill="#E9DEC9" filter="url(#f46)" opacity="0.8"/>
<filter id="f47" x="0" y="0" width="100%" height="100%"><feTurbulence type="fractalNoise" baseFrequency="0.6" numOctaves="1" seed="93" result="t"/><feColorMatrix in="t" type="matrix" values="0 0 0 0 0  0 0 0 0 0  0 0 0 0 0  3.5 0 0 0 -1.95" result="m"/><feComposite in="SourceGraphic" in2="m" operator="in"/><feGaussianBlur stdDeviation="0.45"/></filter>
<rect x="334.5" y="507.9" width="36.6" height="36.7" fill="#9C7C4C" filter="url(#f47)" opacity="0.5"/>
<filter id="f48" x="0" y="0" width="100%" height="100%"><feTurbulence type="fractalNoise" baseFrequency="0.55" numOctaves="1" seed="94" result="t"/><feColorMatrix in="t" type="matrix" values="0 0 0 0 0  0 0 0 0 0  0 0 0 0 0  3.5 0 0 0 -1.95" result="m"/><feComposite in="SourceGraphic" in2="m" operator="in"/><feGaussianBlur stdDeviation="0.45"/></filter>
<rect x="334.5" y="507.9" width="36.6" height="36.7" fill="#F3EBDA" filter="url(#f48)" opacity="0.55"/>
<rect x="334.5" y="507.9" width="36.6" height="36.7" fill="none" stroke="#2f2b27" stroke-width="1"/>
<text x="368.9" y="494.4" font-size="5.2" text-anchor="end" fill="#111" stroke="#111" stroke-width="0.2">x40</text>
<text x="368.9" y="540.9" font-size="5.2" text-anchor="end" fill="#111" stroke="#111" stroke-width="0.2">x80</text>
<rect x="389" y="489.2" width="56" height="55.4" fill="#D9C0AA"/>
<filter id="f49" x="0" y="0" width="100%" height="100%"><feTurbulence type="fractalNoise" baseFrequency="0.87" numOctaves="1" seed="88" result="t"/><feColorMatrix in="t" type="matrix" values="0 0 0 0 0  0 0 0 0 0  0 0 0 0 0  3.5 0 0 0 -1.5" result="m"/><feComposite in="SourceGraphic" in2="m" operator="in"/><feGaussianBlur stdDeviation="0.45"/></filter>
<rect x="389" y="489.2" width="56" height="55.4" fill="#8C5632" filter="url(#f49)" opacity="0.9"/>
<path d="M389 489.2 h5.5 l6 12 l4 12 l2 10 l0 12 l-0.5 9.4 h-17z" fill="#EBE9E6"/>
<circle cx="396" cy="518.2" r="0.9" fill="#9a6a48"/>
<rect x="389" y="489.2" width="56" height="55.4" fill="none" stroke="#6f675c" stroke-width="0.9"/>
<rect x="408.4" y="507.9" width="36.6" height="36.7" fill="#E0D0C2"/>
<filter id="f50" x="0" y="0" width="100%" height="100%"><feTurbulence type="fractalNoise" baseFrequency="0.5" numOctaves="1" seed="98" result="t"/><feColorMatrix in="t" type="matrix" values="0 0 0 0 0  0 0 0 0 0  0 0 0 0 0  4 0 0 0 -1.9" result="m"/><feComposite in="SourceGraphic" in2="m" operator="in"/><feGaussianBlur stdDeviation="0.45"/></filter>
<rect x="408.4" y="507.9" width="36.6" height="36.7" fill="#864C2C" filter="url(#f50)" opacity="0.9"/>
<rect x="408.4" y="507.9" width="36.6" height="36.7" fill="none" stroke="#2f2b27" stroke-width="1"/>
<text x="442.8" y="494.4" font-size="5.2" text-anchor="end" fill="#111" stroke="#111" stroke-width="0.2">x40</text>
<text x="442.8" y="540.9" font-size="5.2" text-anchor="end" fill="#111" stroke="#111" stroke-width="0.2">x80</text>
<text x="480.6" y="272.6" font-size="10.4" text-anchor="middle" fill="#000" stroke="#000" stroke-width="0.1" textLength="32.9" lengthAdjust="spacingAndGlyphs" >Control</text>
<text x="480.6" y="285.8" font-size="10.2" text-anchor="middle" fill="#000" stroke="#000" stroke-width="0.1" textLength="38.8" lengthAdjust="spacingAndGlyphs" ><tspan font-style="italic">(Nras<tspan dy="-3.3" font-size="7.6">+/+</tspan><tspan dy="3.3">&#8203;</tspan>)</tspan></text>
<text x="480.6" y="333.3" font-size="10.4" text-anchor="middle" fill="#000" stroke="#000" stroke-width="0.1" textLength="19.1" lengthAdjust="spacingAndGlyphs" >RN2</text>
<text x="480.6" y="346.5" font-size="10.2" text-anchor="middle" fill="#000" stroke="#000" stroke-width="0.1" textLength="65.2" lengthAdjust="spacingAndGlyphs" >(1 x <tspan font-style="italic">Nras<tspan dy="-3.3" font-size="7.6">G12D</tspan><tspan dy="3.3">&#8203;</tspan>)</tspan></text>
<text x="480.6" y="392.6" font-size="10.4" text-anchor="middle" fill="#000" stroke="#000" stroke-width="0.1" textLength="19.1" lengthAdjust="spacingAndGlyphs" >RN5</text>
<text x="480.6" y="405.8" font-size="10.2" text-anchor="middle" fill="#000" stroke="#000" stroke-width="0.1" textLength="65.2" lengthAdjust="spacingAndGlyphs" >(2 x <tspan font-style="italic">Nras<tspan dy="-3.3" font-size="7.6">G12D</tspan><tspan dy="3.3">&#8203;</tspan>)</tspan></text>
<text x="480.6" y="453.0" font-size="10.4" text-anchor="middle" fill="#000" stroke="#000" stroke-width="0.1" textLength="19.1" lengthAdjust="spacingAndGlyphs" >RN6</text>
<text x="480.6" y="466.2" font-size="10.2" text-anchor="middle" fill="#000" stroke="#000" stroke-width="0.1" textLength="65.2" lengthAdjust="spacingAndGlyphs" >(4 x <tspan font-style="italic">Nras<tspan dy="-3.3" font-size="7.6">G12D</tspan><tspan dy="3.3">&#8203;</tspan>)</tspan></text>
<text x="480.6" y="513.2" font-size="10.4" text-anchor="middle" fill="#000" stroke="#000" stroke-width="0.1" textLength="19.1" lengthAdjust="spacingAndGlyphs" >RN9</text>
<text x="480.6" y="526.4" font-size="10.2" text-anchor="middle" fill="#000" stroke="#000" stroke-width="0.1" textLength="65.2" lengthAdjust="spacingAndGlyphs" >(4 x <tspan font-style="italic">Nras<tspan dy="-3.3" font-size="7.6">G12D</tspan><tspan dy="3.3">&#8203;</tspan>)</tspan></text>
</svg></body></html>
